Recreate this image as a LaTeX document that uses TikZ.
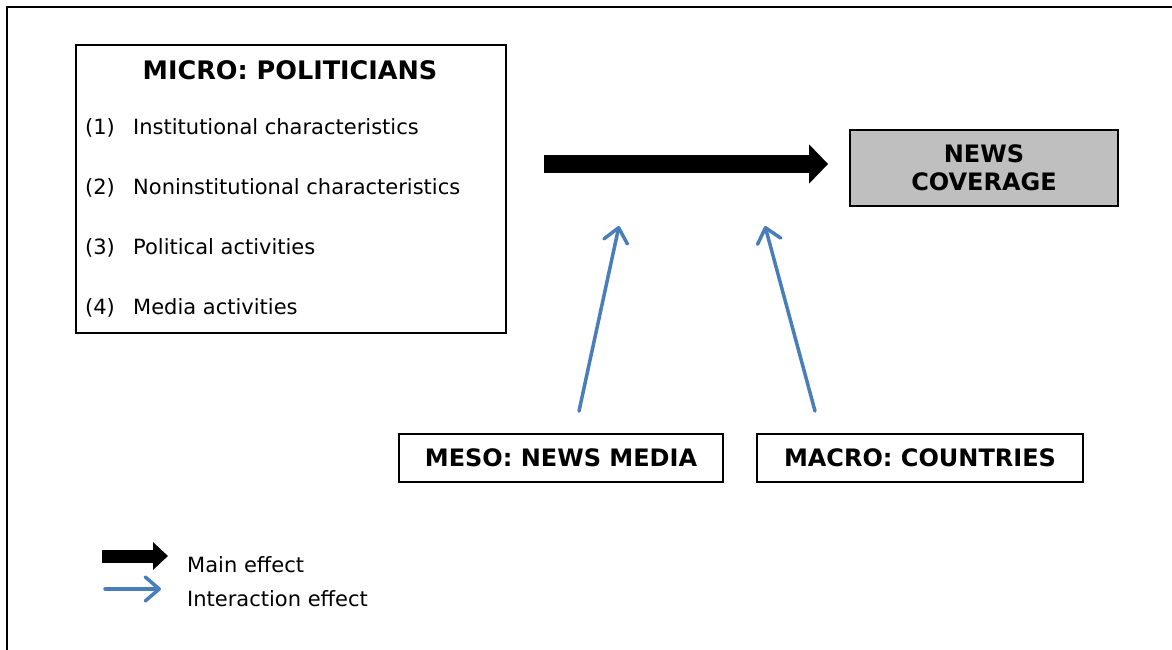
\documentclass[tikz,border=0pt]{standalone}
\usepackage{fontspec}
\setmainfont{DejaVu Sans}
\usepackage{xcolor}
\definecolor{effectblue}{HTML}{4A7EBB}
\definecolor{newsgray}{HTML}{BFBFBF}
\usetikzlibrary{arrows.meta,calc,positioning}

\begin{document}
\begin{tikzpicture}[x=1pt,y=-1pt,
        level/.style={draw,line width=1.8pt,inner sep=0pt,
                font=\bfseries\fontsize{24}{28.5}\selectfont,align=center},
        item/.style={anchor=base west,inner sep=0pt,font=\fontsize{21}{25}\selectfont},
        main/.style={line width=#1,-{Triangle[length=19pt,width=38pt]}},
        inter/.style={draw=effectblue,line width=3.5pt,line cap=round,
                -{Straight Barb[length=14pt,width=24pt,line cap=round,line join=round]}}]
    \useasboundingbox (0,0) rectangle (1172,650);
    % outer frame
    \draw[line width=2.4pt] (7,650) -- (7,7) -- (1172,7);
    %
    \node[level,minimum width=430pt,minimum height=288pt,anchor=north west] (micro) at (75,44) {};
    \node[anchor=base,inner sep=0pt,font=\bfseries\fontsize{25.5}{30}\selectfont] (micro-title) at (290,80) {MICRO: POLITICIANS};
    \foreach \txt [count=\n] in {Institutional characteristics,Noninstitutional characteristics,Political activities,Media activities}
        {\node[item] (num-\n) at (85,{135+(\n-1)*59.7}) {(\n)};
         \node[item] (item-\n) at (133,{135+(\n-1)*59.7}) {\txt};}
    \node[level,fill=newsgray,minimum width=268pt,minimum height=76pt] (news) at (984,168) {NEWS\\COVERAGE};
    \node[level,minimum width=324pt,minimum height=48pt] (meso) at (561,458) {MESO: NEWS MEDIA};
    \node[level,minimum width=326pt,minimum height=48pt] (macro) at (920,458) {MACRO: COUNTRIES};
    % main effect
    \coordinate (main-tail) at ($(micro.east |- news.west)+(37pt,4pt)$);
    \coordinate (main-head) at ($(news.west)+(-21pt,4pt)$);
    \draw[main=18pt] (main-tail) -- (main-head);
    % interaction effects
    \coordinate (meso-tail) at ($(meso.north)+(18pt,22pt)$);
    \coordinate (meso-head) at (619,226);
    \coordinate (macro-tail) at ($(macro.north)+(-105pt,22pt)$);
    \coordinate (macro-head) at (765,226);
    \draw[inter] (meso-tail) -- (meso-head);
    \draw[inter] (macro-tail) -- (macro-head);
    % legend
    \coordinate (key-main-a) at (102,556);
    \coordinate (key-main-b) at (168,556);
    \draw[line width=13pt,-{Triangle[length=15pt,width=27pt]}] (key-main-a) -- (key-main-b);
    \node[item] (key-main) at (187,572) {Main effect};
    \coordinate (key-inter-a) at (105,589);
    \coordinate (key-inter-b) at (161,589);
    \draw[inter] (key-inter-a) -- (key-inter-b);
    \node[item] (key-inter) at (187,606) {Interaction effect};
\end{tikzpicture}
\end{document}
